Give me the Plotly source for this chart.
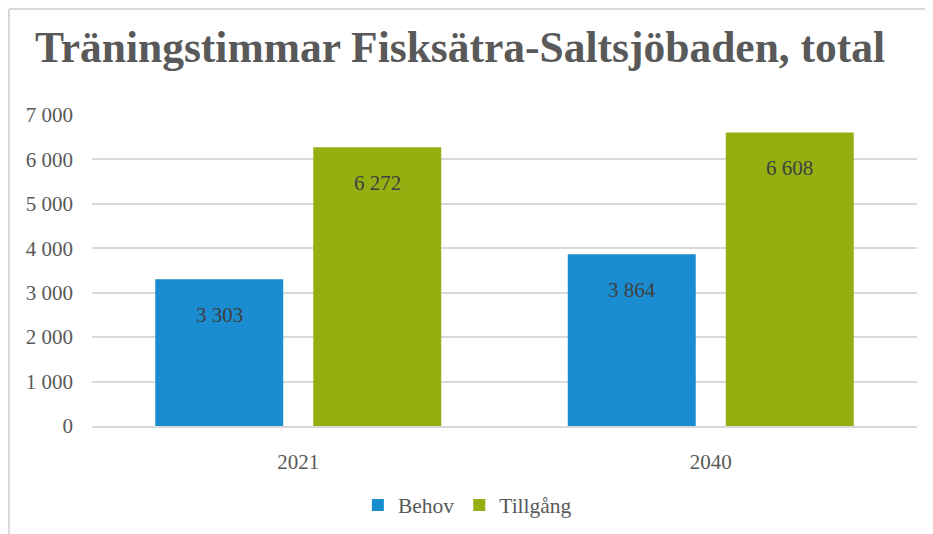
import plotly.graph_objects as go

categories = ["2021", "2040"]
behov = [3303, 3864]
tillgang = [6272, 6608]
series_names = ["Behov", "Tillgång"]
y_ticks = [0, 1000, 2000, 3000, 4000, 5000, 6000, 7000]

FONT = "Liberation Serif"
fig = go.Figure()
fig.add_trace(go.Bar(x=categories, y=behov, name=series_names[0],
                     marker=dict(color="#1a8dd0", line=dict(width=0))))
fig.add_trace(go.Bar(x=categories, y=tillgang, name=series_names[1],
                     marker=dict(color="#93b010", line=dict(width=0))))

ann = []
for i, c in enumerate(categories):
    for j, vals in enumerate([behov, tillgang]):
        ann.append(dict(x=i, y=vals[i], xref="x", yref="y",
                        xshift=(-79 if j == 0 else 79),
                        text=f"{vals[i]:,}".replace(",", " "),
                        showarrow=False, yanchor="top", yshift=-22,
                        font=dict(family=FONT, size=21, color="#404040")))

fig.update_layout(
    width=933, height=534,
    margin=dict(l=84, r=24, t=107, b=116),
    paper_bgcolor="white", plot_bgcolor="white",
    separators=", ",
    barmode="group", bargap=0.234, bargroupgap=0.19,
    title=dict(text="<b>Träningstimmar Fisksätra-Saltsjöbaden, total</b>",
               x=0.4845, xanchor="center", y=0.927, yanchor="middle",
               font=dict(family=FONT, size=43.5, color="#595959")),
    font=dict(family=FONT, size=21, color="#595959"),
    showlegend=True,
    legend=dict(orientation="h", x=0.455, xanchor="center", y=-0.254, yanchor="middle",
                font=dict(family=FONT, size=21.5, color="#595959"),
                traceorder="normal", itemwidth=30),
    annotations=ann,
    shapes=[
        dict(type="line", xref="paper", yref="paper", x0=-0.1006, x1=1.04, y0=1.3408, y1=1.3408,
             line=dict(color="#d9d9d9", width=2)),
        dict(type="line", xref="paper", yref="paper", x0=-0.1006, x1=-0.1006, y0=1.3408, y1=-0.40,
             line=dict(color="#d9d9d9", width=2)),
    ],
)
fig.update_yaxes(range=[0, 7000], tickvals=y_ticks, tickformat=",d",
                 showgrid=True, gridcolor="#d9d9d9", gridwidth=1.5,
                 zeroline=False, showline=False, ticklabelstandoff=18,
                 tickfont=dict(family=FONT, size=21, color="#595959"))
fig.update_xaxes(type="category", range=[-0.5, 1.5], showline=True,
                 linecolor="#d9d9d9", linewidth=1.5, ticklabelstandoff=16,
                 tickfont=dict(family=FONT, size=21, color="#595959"))

fig.write_html("out.html")
